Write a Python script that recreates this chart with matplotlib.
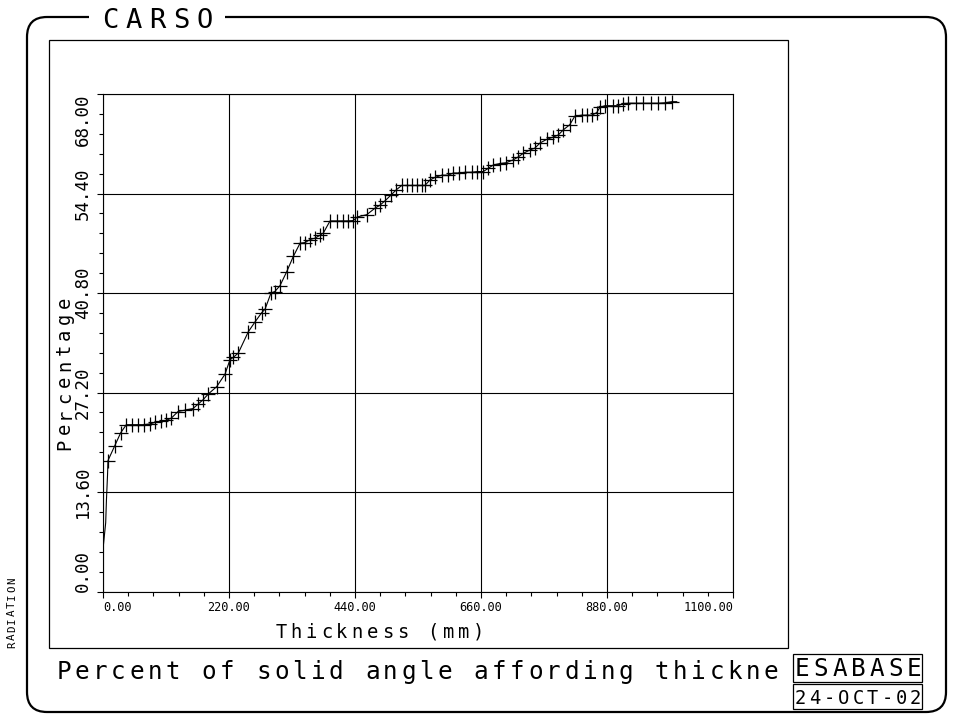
import numpy as np
import matplotlib
matplotlib.use("Agg")
import matplotlib.pyplot as plt
from matplotlib.patches import FancyBboxPatch, Rectangle

plt.rcParams['font.family'] = ['DejaVu Sans Mono', 'DejaVu Sans']

# Данные
thickness = [0, 0, 4.7, 6, 7.9, 8.7, 20.4, 30.9, 40.7, 51.2, 61.1, 71, 81.5, 90.2,
             101.8, 110.5, 119.3, 131, 143.7, 157, 165.9, 174.6, 183.9, 198.5, 213,
             221.8, 227.5, 236.3, 253.7, 265, 277, 283, 293.3, 300, 309, 320.7, 332.3,
             344, 352.8, 361.4, 370.3, 379, 384.7, 396.4, 408, 418.5, 428.3, 437, 444,
             460.4, 475, 483.6, 492.4, 503, 512, 521.5, 530, 539, 547.7, 556.4, 562,
             571, 579.7, 591.4, 603, 611.7, 622, 632, 643.8, 653.5, 664, 672.8, 681.5,
             693, 703.6, 716.4, 725, 734, 745.5, 754, 763, 774.7, 786, 795, 803.7, 815,
             824, 835.8, 844.5, 853, 862, 867.8, 876.5, 891, 899.7, 907.4, 917, 930.6,
             943.4, 956.3, 969.6, 981.3, 993, 1001.7]
percentage = [2.7, 5.8, 9.4, 12.5, 15.9, 17.9, 19.9, 21.7, 22.8, 22.8, 22.8, 22.8, 22.9, 23.1,
              23.3, 23.4, 23.7, 24.6, 24.8, 25.0, 25.6, 26.2, 27.0, 28.0, 29.7,
              31.7, 32.0, 32.6, 35.5, 36.8, 38.1, 38.6, 40.8, 41.0, 41.8, 43.7, 45.8,
              47.6, 47.7, 48.1, 48.3, 48.7, 49.0, 50.65, 50.65, 50.65, 50.65, 50.7, 51.2,
              51.5, 52.4, 52.8, 53.4, 54.2, 54.9, 55.5, 55.5, 55.5, 55.5, 55.5, 55.5,
              56.25, 56.6, 56.9, 56.9, 57.2, 57.2, 57.3, 57.3, 57.4, 57.4, 57.85, 58.3,
              58.5, 58.6, 59.0, 59.4, 59.9, 60.35, 60.6, 61.3, 61.8, 62.1, 62.4, 63.1, 63.8,
              65.0, 65.1, 65.1, 65.1, 65.45, 66.2, 66.4, 66.4, 66.4, 66.7, 66.74, 66.74,
              66.74, 66.74, 66.74, 66.8, 66.95, 66.95]

x_ticks = [0, 220, 440, 660, 880, 1100]
x_labels = ['0.00', '220.00', '440.00', '660.00', '880.00', '1100.00']
y_ticks = [0, 13.6, 27.2, 40.8, 54.4, 68.0]
y_labels = ['0.00', '13.60', '27.20', '40.80', '54.40', '68.00']

W, H = 956, 721
fig = plt.figure(figsize=(W / 100, H / 100), dpi=100)

# рамка во весь рисунок, координаты в пикселях
frame = fig.add_axes([0, 0, 1, 1])
frame.set_xlim(0, W)
frame.set_ylim(H, 0)
frame.axis('off')


def spaced(x0, y0, s, pitch, size, vertical=False):
    # моноширинный текст с заданным шагом букв
    for i, ch in enumerate(s):
        if vertical:
            frame.text(x0, y0 - i * pitch, ch, rotation=90, rotation_mode='anchor',
                       ha='center', va='baseline', fontsize=size, color='black')
        else:
            frame.text(x0 + i * pitch, y0, ch, ha='center', va='baseline',
                       fontsize=size, color='black')


frame.add_patch(FancyBboxPatch((27, 17), 919, 695, boxstyle='round,pad=0,rounding_size=20',
                               fill=False, lw=1.6, ec='black'))
frame.add_patch(Rectangle((89, 8), 136, 20, fc='white', ec='none', zorder=3))
frame.add_patch(Rectangle((49, 40), 739, 608, fill=False, lw=0.9, ec='black'))
frame.add_patch(Rectangle((793, 654), 129, 28, fill=False, lw=0.9, ec='black'))
frame.add_patch(Rectangle((793, 684), 129, 25, fill=False, lw=0.9, ec='black'))

spaced(110.5, 28, 'CARSO', 23.5, 19.5)
spaced(15, 644.5, 'RADIATION', 8, 7.8, vertical=True)
spaced(70, 444.5, 'Percentage', 15.8, 13.5, vertical=True)
spaced(281, 638, 'Thickness (mm)', 15.2, 13.5)
spaced(64, 679, 'Percent of solid angle affording thickne', 18.13, 17.5)
spaced(802, 676, 'ESABASE', 18.7, 17.5)
spaced(800.5, 704, '24-OCT-02', 14.4, 13.5)

ax = fig.add_axes([103 / W, 1 - 591.5 / H, 630 / W, 497.5 / H])
markers = list(range(5, len(thickness) - 1))
ax.plot(thickness, percentage, color='black', lw=0.8, marker='+', markersize=9.5,
        markeredgewidth=0.9, markevery=markers)

ax.set_xlim(0, 1100)
ax.set_ylim(0, 68)
ax.set_xticks(x_ticks)
ax.set_xticklabels(x_labels, fontsize=8.6)
ax.set_yticks(y_ticks)
ax.set_yticklabels(y_labels, fontsize=12.5, rotation=90, va='center')
ax.set_xticks(np.arange(0, 1101, 44), minor=True)
ax.set_yticks(np.arange(0, 68.01, 2.72), minor=True)
ax.tick_params(axis='both', which='major', length=4.5, width=0.8, direction='out')
ax.tick_params(axis='both', which='minor', length=3, width=0.8, direction='out')
ax.tick_params(axis='x', pad=2)
ax.tick_params(axis='y', pad=3.5)
xl = ax.get_xticklabels()
xl[0].set_ha('left')
xl[-1].set_ha('right')
yl = ax.get_yticklabels()
yl[0].set_va('bottom')
yl[-1].set_va('top')
ax.grid(True, which='major', color='black', lw=0.8)
for s in ax.spines.values():
    s.set_linewidth(0.8)

fig.savefig('out.png', dpi=100)
